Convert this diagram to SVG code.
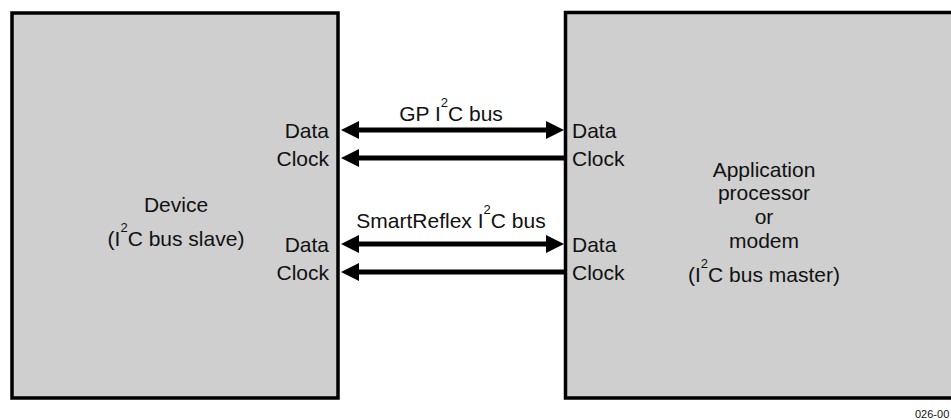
<svg xmlns="http://www.w3.org/2000/svg" width="951" height="420" viewBox="0 0 951 420">
<style>
.box{fill:#cfcfcf;stroke:#000;stroke-width:3.5}
.t{font-family:"Liberation Sans",Arial,sans-serif;font-size:21px;fill:#111}
.s{font-size:13px}
.bus{stroke:#000;stroke-width:5;fill:none}
.small{font-family:"Liberation Sans",Arial,sans-serif;font-size:11px;fill:#111}
</style>
<defs>
<marker id="ah" viewBox="0 0 18 18" markerWidth="18" markerHeight="18" markerUnits="userSpaceOnUse" refX="4" refY="9" orient="auto-start-reverse">
<path d="M0,0 L18,9 L0,18 Z" fill="#000"/>
</marker>
</defs>
<rect width="951" height="420" fill="#fff"/>
<g id="device">
<rect class="box" x="12" y="13" width="326" height="385"/>
<text class="t" x="176" y="212" text-anchor="middle">Device</text>
<text class="t" x="176" y="246" text-anchor="middle">(I<tspan class="s" dy="-14">2</tspan><tspan dy="14">C bus slave)</tspan></text>
<text class="t" x="329" y="137.5" text-anchor="end">Data</text>
<text class="t" x="329" y="165.5" text-anchor="end">Clock</text>
<text class="t" x="329" y="251.5" text-anchor="end">Data</text>
<text class="t" x="329" y="279.5" text-anchor="end">Clock</text>
</g>
<g id="processor">
<rect class="box" x="565.5" y="12.5" width="400" height="385.5"/>
<text class="t" x="764" y="176.5" text-anchor="middle">Application</text>
<text class="t" x="764" y="200" text-anchor="middle">processor</text>
<text class="t" x="764" y="223.5" text-anchor="middle">or</text>
<text class="t" x="764" y="248" text-anchor="middle">modem</text>
<text class="t" x="764" y="282" text-anchor="middle">(I<tspan class="s" dy="-14">2</tspan><tspan dy="14">C bus master)</tspan></text>
<text class="t" x="572" y="137.5">Data</text>
<text class="t" x="572" y="165.5">Clock</text>
<text class="t" x="572" y="251.5">Data</text>
<text class="t" x="572" y="279.5">Clock</text>
</g>
<g id="connectors">
<line class="bus" x1="355" y1="130" x2="550" y2="130" marker-start="url(#ah)" marker-end="url(#ah)"/>
<line class="bus" x1="355" y1="158" x2="565" y2="158" marker-start="url(#ah)"/>
<line class="bus" x1="355" y1="244" x2="550" y2="244" marker-start="url(#ah)" marker-end="url(#ah)"/>
<line class="bus" x1="355" y1="272" x2="565" y2="272" marker-start="url(#ah)"/>
<text class="t" x="451" y="121" text-anchor="middle">GP I<tspan class="s" dy="-14">2</tspan><tspan dy="14">C bus</tspan></text>
<text class="t" x="451" y="228" text-anchor="middle">SmartReflex I<tspan class="s" dy="-14">2</tspan><tspan dy="14">C bus</tspan></text>
</g>
<text class="small" x="915" y="418">026-00</text>
</svg>
